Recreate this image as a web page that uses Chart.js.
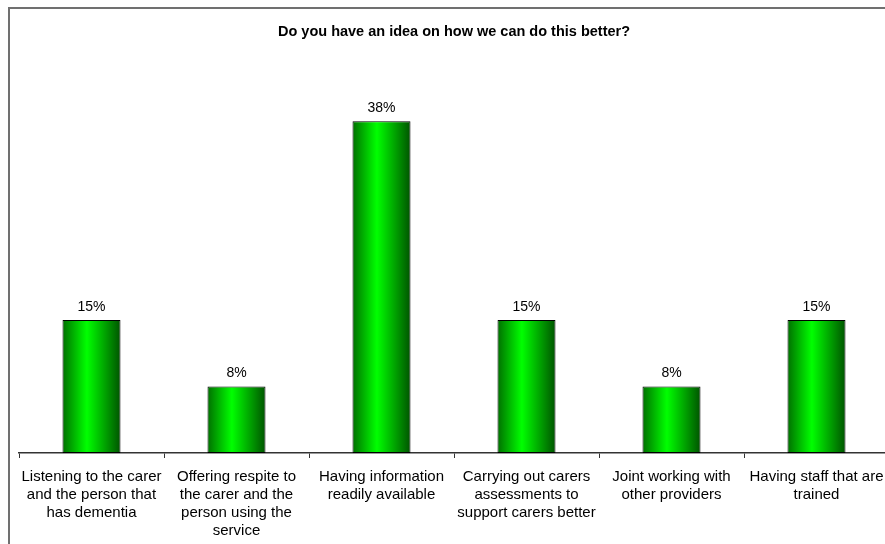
<!DOCTYPE html>
<html>
<head>
<meta charset="utf-8">
<script src="https://cdn.jsdelivr.net/npm/chart.js@4"></script>
<style>
    html, body { margin: 0; padding: 0; overflow: hidden; background: #fff; }
    canvas { display: block; }
</style>
</head>
<body>
<canvas id="grafico" width="905" height="544"></canvas>
<script>
// categorias (rótulos em várias linhas, como no original)
var categorias = [
    ['Listening to the carer', 'and the person that', 'has dementia'],
    ['Offering respite to', 'the carer and the', 'person using the', 'service'],
    ['Having information', 'readily available'],
    ['Carrying out carers', 'assessments to', 'support carers better'],
    ['Joint working with', 'other providers'],
    ['Having staff that are', 'trained']
];
// percentagens
var valores = [15.4, 7.7, 38.4, 15.4, 7.7, 15.4];
var titulo = 'Do you have an idea on how we can do this better?';

var fonte = '"Liberation Sans", Arial, sans-serif';

// gradiente horizontal para cada barra
function corBarra(c) {
    var chart = c.chart;
    if (!chart.chartArea || !chart.scales.x) return '#00ff00';
    var escala = chart.scales.x;
    var x = escala.getPixelForValue(c.dataIndex);
    var w = (escala.width / categorias.length) * 0.4;
    var g = chart.ctx.createLinearGradient(x - w / 2, 0, x + w / 2, 0);
    g.addColorStop(0, '#007000');
    g.addColorStop(0.42, '#00ff00');
    g.addColorStop(1, '#005400');
    return g;
}

// moldura cinza e fundo branco
var moldura = {
    id: 'moldura',
    beforeDraw: function(chart) {
        var ctx = chart.ctx;
        ctx.save();
        ctx.fillStyle = '#fff';
        ctx.fillRect(0, 0, chart.width, chart.height);
        ctx.strokeStyle = '#707070';
        ctx.lineWidth = 2;
        ctx.beginPath();
        ctx.moveTo(9, chart.height);
        ctx.lineTo(9, 8);
        ctx.lineTo(chart.width, 8);
        ctx.stroke();
        ctx.restore();
    }
};

// rótulos de percentagem acima das barras
var rotulos = {
    id: 'rotulos',
    afterDatasetsDraw: function(chart) {
        var ctx = chart.ctx;
        var meta = chart.getDatasetMeta(0);
        ctx.save();
        ctx.font = '14px ' + fonte;
        ctx.fillStyle = '#000';
        ctx.textAlign = 'center';
        ctx.textBaseline = 'alphabetic';
        meta.data.forEach(function(barra, i) {
            ctx.fillText(Math.round(valores[i]) + '%', barra.x, barra.y - 9);
        });
        ctx.restore();
    }
};

var ctx = document.getElementById('grafico').getContext('2d');
var grafico = new Chart(ctx, {
    type: 'bar',
    data: {
        labels: categorias,
        datasets: [{
            data: valores,
            backgroundColor: corBarra,
            borderColor: '#000',
            borderWidth: 1,
            borderSkipped: false,
            categoryPercentage: 1,
            barPercentage: 0.4
        }]
    },
    options: {
        responsive: false,
        animation: false,
        layout: { padding: { left: 19, right: 16, top: 0, bottom: 0 } },
        plugins: {
            legend: { display: false },
            tooltip: { enabled: false },
            title: {
                display: true,
                text: titulo,
                color: '#000',
                font: { family: fonte, size: 14.5, weight: 'bold', lineHeight: 1.2 },
                padding: { top: 23.5, bottom: 66.5 }
            }
        },
        scales: {
            x: {
                grid: {
                    drawOnChartArea: false,
                    drawTicks: true,
                    tickLength: 5,
                    color: '#333',
                    offset: true
                },
                border: { color: '#333', width: 1.5 },
                ticks: {
                    color: '#000',
                    font: { family: fonte, size: 15, lineHeight: 1.2 },
                    padding: 10,
                    autoSkip: false,
                    maxRotation: 0,
                    minRotation: 0
                },
                afterFit: function(escala) { escala.height = 91; }
            },
            y: {
                display: false,
                min: 0,
                max: 40
            }
        }
    },
    plugins: [moldura, rotulos]
});
</script>
</body>
</html>
